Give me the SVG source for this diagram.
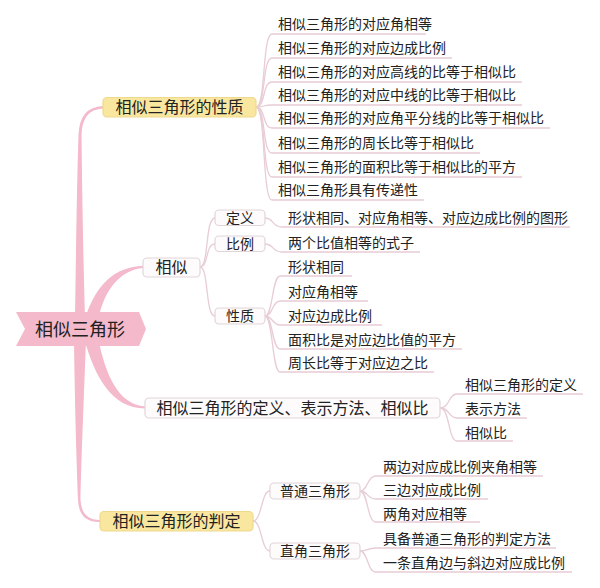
<svg xmlns="http://www.w3.org/2000/svg" width="600" height="588" viewBox="0 0 600 588">
<style>
text{font-family:"Noto Sans CJK SC","Noto Sans",sans-serif;fill:#222}
.t14{font-size:14px}
.t16{font-size:16px}
.mid{text-anchor:middle}
.trunk{fill:#f4b9ca;stroke:none}
.ln{fill:none;stroke:#e8ccd6;stroke-width:1.3}
.box{fill:#fdfbfc;stroke:#e2d5da;stroke-width:1.2}
.ybox{fill:#f9e7a0;stroke:#eed98c;stroke-width:1.2}
</style>
<rect width="600" height="588" fill="#ffffff"/>
<g id="connectors">
<!-- thick tapered branches from root -->
<path class="trunk" d="M75 318 C76 250 77 180 78.5 135 Q79.5 107 103 106 L103 108.5 Q82 109.5 81.5 135 C82 180 83 250 85 318 Z"/>
<path class="trunk" d="M74 340 C75 420 77 470 78 500 Q79 522.5 100 522 L100 520 Q81.5 520 80.5 500 C81 470 83 420 86 340 Z"/>
<path class="trunk" d="M86 316 C96 285 115 266.5 143 266 L143 268 C120 270 105 290 99 316 Z"/>
<path class="trunk" d="M84 338 C95 378 112 408 145 408.5 L145 406.5 C118 404 106 376 98 338 Z"/>
<!-- properties -->
<path class="ln" d="M256 107 C266 107 262 34 272 34 L426 34"/>
<path class="ln" d="M256 107 C266 107 262 58 272 58 L452 58"/>
<path class="ln" d="M256 107 C266 107 262 82 272 82 L522 82"/>
<path class="ln" d="M256 107 C266 107 262 105 272 105 L522 105"/>
<path class="ln" d="M256 107 C266 107 262 128 272 128 L550 128"/>
<path class="ln" d="M256 107 C266 107 262 153 272 153 L480 153"/>
<path class="ln" d="M256 107 C266 107 262 177 272 177 L522 177"/>
<path class="ln" d="M256 107 C266 107 262 200 272 200 L424 200"/>
<!-- 相似 -->
<path class="ln" d="M200 267 C209 267 205 218 215 218"/>
<path class="ln" d="M200 267 C209 267 205 244 215 244"/>
<path class="ln" d="M200 267 C209 267 205 316 215 316"/>
<path class="ln" d="M265 218 C274 218 272 227 282 227 L570 227"/>
<path class="ln" d="M265 244 C274 244 272 252 282 252 L420 252"/>
<path class="ln" d="M265 316 C273 316 272 276 280 276 L352 276"/>
<path class="ln" d="M265 316 C273 316 272 301 280 301 L368 301"/>
<path class="ln" d="M265 316 C273 316 272 325 280 325 L382 325"/>
<path class="ln" d="M265 316 C273 316 272 349 280 349 L462 349"/>
<path class="ln" d="M265 316 C273 316 272 372 280 372 L434 372"/>
<!-- 定义表示相似比 -->
<path class="ln" d="M440 408 C450 408 448 394 457 394 L583 394"/>
<path class="ln" d="M440 408 C450 408 448 418 457 418 L527 418"/>
<path class="ln" d="M440 408 C450 408 448 441 457 441 L513 441"/>
<!-- 判定 -->
<path class="ln" d="M253 521 C262 521 261 491 270 491"/>
<path class="ln" d="M253 521 C262 521 261 551 270 551"/>
<path class="ln" d="M360 491 C368 491 367 476 376 476 L543 476"/>
<path class="ln" d="M360 491 C368 491 367 499 376 499 L488 499"/>
<path class="ln" d="M360 491 C368 491 367 522 376 522 L480 522"/>
<path class="ln" d="M360 551 C368 551 367 548 376 548 L556 548"/>
<path class="ln" d="M360 551 C368 551 367 572 376 572 L572 572"/>
</g>
<g id="root">
<polygon points="16,312 139,312 146,329 139,346 16,346 25,329" fill="#f4b9ca"/>
<text x="80" y="335.5" class="mid" style="font-size:18px">相似三角形</text>
</g>
<g id="node-xingzhi">
<rect class="ybox" x="103" y="97.5" width="153" height="19.5" rx="4"/>
<text x="179.5" y="113" class="t16 mid">相似三角形的性质</text>
</g>
<g id="leaves-xingzhi" class="t14">
<text x="278" y="29">相似三角形的对应角相等</text>
<text x="278" y="53">相似三角形的对应边成比例</text>
<text x="278" y="77">相似三角形的对应高线的比等于相似比</text>
<text x="278" y="100">相似三角形的对应中线的比等于相似比</text>
<text x="278" y="123">相似三角形的对应角平分线的比等于相似比</text>
<text x="278" y="148">相似三角形的周长比等于相似比</text>
<text x="278" y="172">相似三角形的面积比等于相似比的平方</text>
<text x="278" y="195">相似三角形具有传递性</text>
</g>
<g id="node-xiangsi">
<rect class="box" x="143" y="258" width="57" height="19" rx="4"/>
<text x="171.5" y="273" class="t16 mid">相似</text>
</g>
<g id="node-dingyi">
<rect class="box" x="215" y="210" width="50" height="15.5" rx="4"/>
<text x="240" y="222.5" class="t14 mid">定义</text>
</g>
<g id="node-bili">
<rect class="box" x="215" y="236" width="50" height="15.5" rx="4"/>
<text x="240" y="248.5" class="t14 mid">比例</text>
</g>
<g id="node-xingzhi2">
<rect class="box" x="215" y="308" width="50" height="16" rx="4"/>
<text x="240" y="321" class="t14 mid">性质</text>
</g>
<g id="leaves-xiangsi" class="t14">
<text x="288" y="223">形状相同、对应角相等、对应边成比例的图形</text>
<text x="288" y="248">两个比值相等的式子</text>
<text x="288" y="272">形状相同</text>
<text x="288" y="297">对应角相等</text>
<text x="288" y="321">对应边成比例</text>
<text x="288" y="345">面积比是对应边比值的平方</text>
<text x="288" y="368">周长比等于对应边之比</text>
</g>
<g id="node-dingyibiaoshi">
<rect class="box" x="145" y="398" width="295" height="20" rx="4"/>
<text x="292.5" y="414" class="t16 mid">相似三角形的定义、表示方法、相似比</text>
</g>
<g id="leaves-dingyibiaoshi" class="t14">
<text x="465" y="390">相似三角形的定义</text>
<text x="465" y="414">表示方法</text>
<text x="465" y="438">相似比</text>
</g>
<g id="node-panding">
<rect class="ybox" x="100" y="511.5" width="153" height="19.5" rx="4"/>
<text x="176.5" y="527" class="t16 mid">相似三角形的判定</text>
</g>
<g id="node-putong">
<rect class="box" x="270" y="483" width="90" height="16" rx="4"/>
<text x="315" y="496" class="t14 mid">普通三角形</text>
</g>
<g id="node-zhijiao">
<rect class="box" x="270" y="543" width="90" height="16" rx="4"/>
<text x="315" y="556" class="t14 mid">直角三角形</text>
</g>
<g id="leaves-panding" class="t14">
<text x="383" y="472">两边对应成比例夹角相等</text>
<text x="383" y="495">三边对应成比例</text>
<text x="383" y="519">两角对应相等</text>
<text x="383" y="544">具备普通三角形的判定方法</text>
<text x="383" y="568">一条直角边与斜边对应成比例</text>
</g>
</svg>
